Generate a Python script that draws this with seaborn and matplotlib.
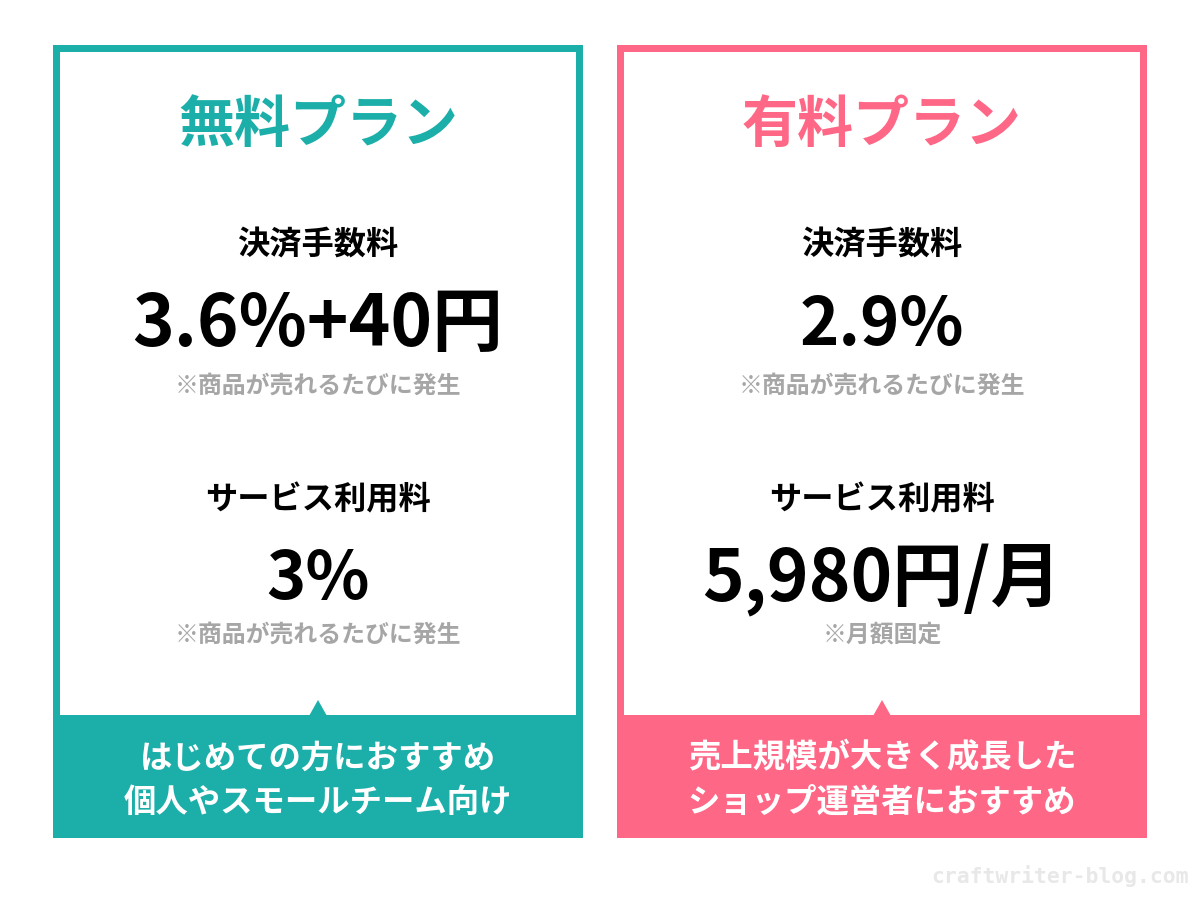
import matplotlib
matplotlib.use("Agg")
import matplotlib.pyplot as plt
from matplotlib.patches import Rectangle, Polygon
import seaborn as sns

sns.set_theme(style="white")
plt.rcParams['font.family'] = ['Noto Sans CJK JP', 'DejaVu Sans']

TEAL = "#1cafa9"
PINK = "#ff6786"
GREY = "#a6a6a6"

plan_names = ["無料プラン", "有料プラン"]
plan_colors = [TEAL, PINK]
fee_label = "決済手数料"
service_label = "サービス利用料"
fee_values = ["3.6%+40円", "2.9%"]
service_values = ["3%", "5,980円/月"]
fee_notes = ["※商品が売れるたびに発生", "※商品が売れるたびに発生"]
service_notes = ["※商品が売れるたびに発生", "※月額固定"]
footers = [["はじめての方におすすめ", "個人やスモールチーム向け"],
           ["売上規模が大きく成長した", "ショップ運営者におすすめ"]]
panel_left = [53, 617]
panel_width = 530

fig = plt.figure(figsize=(12, 9), dpi=100)
ax = fig.add_axes([0, 0, 1, 1])
ax.set_xlim(0, 1200)
ax.set_ylim(900, 0)
ax.axis("off")

def draw_text(x, y, s, size, color="black", weight="bold"):
    ax.text(x, y, s, fontsize=size, color=color, fontweight=weight, ha="center", va="center")

for i, left in enumerate(panel_left):
    col = plan_colors[i]
    cx = left + panel_width / 2
    # solid block with a white window gives the frame and the footer band
    ax.add_patch(Rectangle((left, 45), panel_width, 793, fc=col, ec="none"))
    ax.add_patch(Rectangle((left + 7, 52), panel_width - 14, 663, fc="white", ec="none"))
    ax.add_patch(Polygon([(cx - 9, 716), (cx, 700), (cx + 9, 716)], fc=col, ec="none"))

    # long values are set a bit larger, digits in the reference run wide
    fee_size = 51 if len(fee_values[i]) > 4 else 48
    service_size = 51 if len(service_values[i]) > 4 else 48

    draw_text(cx, 126, plan_names[i], 40.3, col)
    draw_text(cx, 245, fee_label, 23.2)
    draw_text(cx, 325, fee_values[i], fee_size)
    draw_text(cx, 386, fee_notes[i], 17.2, GREY)
    draw_text(cx, 500, service_label, 23.2)
    draw_text(cx, 580, service_values[i], service_size)
    draw_text(cx, 635, service_notes[i], 17.2, GREY)
    draw_text(cx, 758, footers[i][0], 23.3, "white")
    draw_text(cx, 802, footers[i][1], 23.3, "white")

ax.text(1189, 876, "craftwriter-blog.com", fontsize=15.4, color="#e8e8e8", fontweight="bold",
        ha="right", va="center", family=["DejaVu Sans Mono", "DejaVu Sans"])

fig.savefig("out.png", dpi=100, facecolor="white")
plt.close(fig)
